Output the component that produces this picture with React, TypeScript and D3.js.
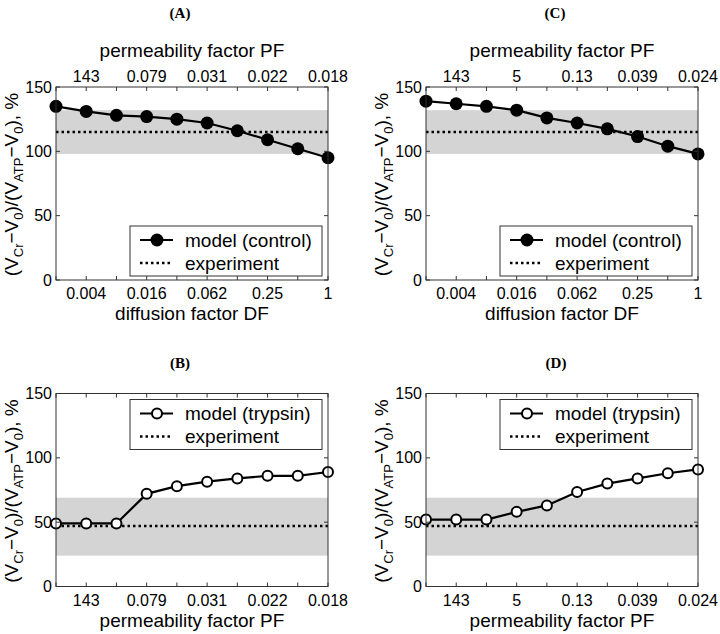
import React from "react";
import * as d3 from "d3";

// ---- data ----
const dfCategories = ["0.002", "0.004", "0.008", "0.016", "0.031", "0.062", "0.125", "0.25", "0.5", "1"];
const dfTickLabels = ["0.004", "0.016", "0.062", "0.25", "1"];
const pfTickLabelsAB = ["143", "0.079", "0.031", "0.022", "0.018"];
const pfTickLabelsCD = ["143", "5", "0.13", "0.039", "0.024"];
const yTicks = [0, 50, 100, 150];

const controlA = [135, 131, 128, 127, 125, 122, 116, 109, 102, 95];
const trypsinB = [49, 49, 49, 72, 78, 81.5, 84, 86, 86, 89];
const controlC = [139, 137, 135, 132, 126, 122, 117.5, 111.5, 104, 98];
const trypsinD = [52, 52, 52, 58, 63, 73.5, 80, 84, 88, 91];

const controlBand = [98, 132];
const controlExp = 115;
const trypsinBand = [24, 69];
const trypsinExp = 47;

const FONT = "'Liberation Sans', Arial, Helvetica, sans-serif";
const AXIS = "#333";

type PanelProps = {
  title: string;
  titleX: number;
  titleY: number;
  x0: number;
  x1: number;
  y0: number;
  y1: number;
  values: number[];
  band: number[];
  exp: number;
  filled: boolean;
  topLabels: string[] | null;
  bottomLabels: string[];
  bottomTitle: string;
  legendTop: boolean;
  legendText: string;
};

function YLabel({ x, y }: { x: number; y: number }) {
  const sub = 13;
  const d = 5;
  return (
    <text
      transform={`translate(${x},${y}) rotate(-90)`}
      textAnchor="middle"
      fontFamily={FONT}
      fontSize={19}
      fill="#000"
    >
      <tspan>(V</tspan>
      <tspan fontSize={sub} dy={d}>Cr</tspan>
      <tspan dy={-d}>−V</tspan>
      <tspan fontSize={sub} dy={d}>0</tspan>
      <tspan dy={-d}>)/(V</tspan>
      <tspan fontSize={sub} dy={d}>ATP</tspan>
      <tspan dy={-d}>−V</tspan>
      <tspan fontSize={sub} dy={d}>0</tspan>
      <tspan dy={-d}>), %</tspan>
    </text>
  );
}

function Panel(p: PanelProps) {
  const x = d3.scalePoint<string>().domain(dfCategories).range([p.x0, p.x1]);
  const y = d3.scaleLinear().domain([0, 150]).range([p.y1, p.y0]);
  const oddCats = dfCategories.filter((_, i) => i % 2 === 1);
  const line = d3
    .line<number>()
    .x((_, i) => x(dfCategories[i]) as number)
    .y((v) => y(v));
  const tickLen = 4;

  const lw = 192;
  const lh = 50;
  const lx = p.x1 - 6 - lw;
  const ly = p.legendTop ? p.y0 + 6 : p.y1 - 4 - lh;

  return (
    <g>
      <text
        x={p.titleX}
        y={p.titleY}
        textAnchor="middle"
        fontFamily="'Liberation Serif', 'Times New Roman', serif"
        fontWeight="bold"
        fontSize={15}
      >
        {p.title}
      </text>
      {/* band */}
      <rect
        x={p.x0}
        y={y(p.band[1])}
        width={p.x1 - p.x0}
        height={y(p.band[0]) - y(p.band[1])}
        fill="#d4d4d4"
      />
      {/* experiment */}
      <line
        x1={p.x0}
        x2={p.x1}
        y1={y(p.exp)}
        y2={y(p.exp)}
        stroke="#000"
        strokeWidth={2.5}
        strokeDasharray="2.5,3"
      />
      {/* model */}
      <path d={line(p.values) || ""} fill="none" stroke="#000" strokeWidth={2.2} />
      {p.values.map((v, i) => (
        <circle
          key={i}
          cx={x(dfCategories[i]) as number}
          cy={y(v)}
          r={p.filled ? 6.5 : 5}
          fill={p.filled ? "#000" : "#fff"}
          stroke="#000"
          strokeWidth={p.filled ? 0 : 2}
        />
      ))}
      {/* axes box */}
      <rect x={p.x0} y={p.y0} width={p.x1 - p.x0} height={p.y1 - p.y0} fill="none" stroke={AXIS} strokeWidth={1} />
      {dfCategories.map((c, i) => (
        <g key={"t" + i}>
          <line x1={x(c)} x2={x(c)} y1={p.y1} y2={p.y1 - tickLen} stroke={AXIS} />
          <line x1={x(c)} x2={x(c)} y1={p.y0} y2={p.y0 + tickLen} stroke={AXIS} />
        </g>
      ))}
      {yTicks.map((t) => (
        <g key={"y" + t}>
          <line x1={p.x0} x2={p.x0 + tickLen} y1={y(t)} y2={y(t)} stroke={AXIS} />
          <line x1={p.x1} x2={p.x1 - tickLen} y1={y(t)} y2={y(t)} stroke={AXIS} />
          <text
            x={p.x0 - 4}
            y={y(t) + 5.5}
            textAnchor="end"
            fontFamily={FONT}
            fontSize={16}
          >
            {t}
          </text>
        </g>
      ))}
      {oddCats.map((c, i) => (
        <text
          key={"bl" + i}
          x={x(c)}
          y={p.y1 + 19}
          textAnchor="middle"
          fontFamily={FONT}
          fontSize={16}
        >
          {p.bottomLabels[i]}
        </text>
      ))}
      <text
        x={(p.x0 + p.x1) / 2}
        y={p.y1 + 40}
        textAnchor="middle"
        fontFamily={FONT}
        fontSize={19}
      >
        {p.bottomTitle}
      </text>
      {p.topLabels && (
        <g>
          {oddCats.map((c, i) => (
            <text
              key={"tl" + i}
              x={x(c)}
              y={p.y0 - 5}
              textAnchor="middle"
              fontFamily={FONT}
              fontSize={16}
            >
              {p.topLabels![i]}
            </text>
          ))}
          <text
            x={(p.x0 + p.x1) / 2}
            y={p.y0 - 30}
            textAnchor="middle"
            fontFamily={FONT}
            fontSize={19}
          >
            permeability factor PF
          </text>
        </g>
      )}
      <YLabel x={p.x0 - 38} y={(p.y0 + p.y1) / 2 + 1} />
      {/* legend */}
      <g>
        <rect x={lx} y={ly} width={lw} height={lh} fill="#fff" stroke={AXIS} strokeWidth={1} />
        <line x1={lx + 10} x2={lx + 43} y1={ly + 14} y2={ly + 14} stroke="#000" strokeWidth={2.2} />
        <circle
          cx={lx + 27}
          cy={ly + 14}
          r={p.filled ? 6.5 : 5}
          fill={p.filled ? "#000" : "#fff"}
          stroke="#000"
          strokeWidth={p.filled ? 0 : 2}
        />
        <text x={lx + 55} y={ly + 14 + 6.5} fontFamily={FONT} fontSize={19}>
          {p.legendText}
        </text>
        <line
          x1={lx + 10}
          x2={lx + 43}
          y1={ly + 37}
          y2={ly + 37}
          stroke="#000"
          strokeWidth={2.5}
          strokeDasharray="2.5,3"
        />
        <text x={lx + 55} y={ly + 37 + 6.5} fontFamily={FONT} fontSize={19}>
          experiment
        </text>
      </g>
    </g>
  );
}

export default function App() {
  return (
    <svg
      width={720}
      height={634}
      style={{ position: "absolute", left: 0, top: 0, background: "#fff" }}
    >
      <rect width={720} height={634} fill="#fff" />
      <Panel
        title="(A)" titleX={180} titleY={18}
        x0={56} x1={328} y0={87} y1={280}
        values={controlA} band={controlBand} exp={controlExp} filled={true}
        topLabels={pfTickLabelsAB} bottomLabels={dfTickLabels} bottomTitle="diffusion factor DF"
        legendTop={false} legendText="model (control)"
      />
      <Panel
        title="(C)" titleX={555} titleY={18}
        x0={426} x1={698} y0={87} y1={280}
        values={controlC} band={controlBand} exp={controlExp} filled={true}
        topLabels={pfTickLabelsCD} bottomLabels={dfTickLabels} bottomTitle="diffusion factor DF"
        legendTop={false} legendText="model (control)"
      />
      <Panel
        title="(B)" titleX={180} titleY={368}
        x0={56} x1={328} y0={393.5} y1={586.5}
        values={trypsinB} band={trypsinBand} exp={trypsinExp} filled={false}
        topLabels={null} bottomLabels={pfTickLabelsAB} bottomTitle="permeability factor PF"
        legendTop={true} legendText="model (trypsin)"
      />
      <Panel
        title="(D)" titleX={556} titleY={368}
        x0={426} x1={698} y0={393.5} y1={586.5}
        values={trypsinD} band={trypsinBand} exp={trypsinExp} filled={false}
        topLabels={null} bottomLabels={pfTickLabelsCD} bottomTitle="permeability factor PF"
        legendTop={true} legendText="model (trypsin)"
      />
    </svg>
  );
}
